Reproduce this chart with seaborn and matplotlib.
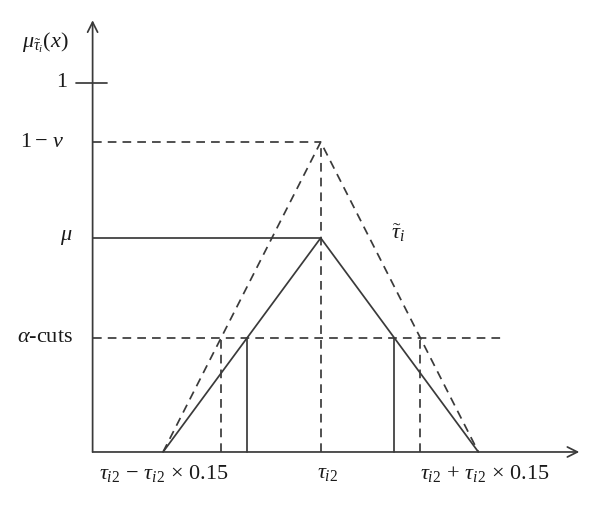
import numpy as np
import pandas as pd
import matplotlib
matplotlib.use("Agg")
import matplotlib.pyplot as plt
import seaborn as sns

# ---- data ----
base_x = [0.85, 1.0, 1.15]          # tau_i2 - 0.15 tau, tau_i2, tau_i2 + 0.15 tau
mu_level = 0.58                      # membership peak (solid)
nonmem_level = 0.84                  # 1 - nu (dashed)
alpha_level = 0.31                   # alpha-cut level
x_tick_labels = [r'$\tau_{i2}\,-\,\tau_{i2}\,\times\,0.15$', r'$\tau_{i2}$',
                 r'$\tau_{i2}\,+\,\tau_{i2}\,\times\,0.15$']
y_tick_values = [1.0, nonmem_level, mu_level, alpha_level]
y_tick_labels = ['1', r'$1-\,\nu$', r'$\mu$', r'$\alpha$-cuts']

sns.set_theme(style="white")
plt.rcParams['font.family'] = ['Liberation Serif', 'DejaVu Serif']
plt.rcParams['mathtext.fontset'] = 'custom'
plt.rcParams['mathtext.rm'] = 'Liberation Serif'
plt.rcParams['mathtext.it'] = 'Liberation Serif:italic'
plt.rcParams['mathtext.bf'] = 'Liberation Serif:bold'

col = '#3a3a3a'
lw = 1.25
dash = (5, 3.5)

fig = plt.figure(figsize=(6.0, 5.08), dpi=100)
ax = fig.add_axes([0, 0, 1, 1])
# pixel-consistent data window
ax.set_xlim(0.6949, 1.2657)
ax.set_ylim(-0.1518, 1.2249)
ax.axis('off')

tri = pd.DataFrame({
    'x': base_x * 2,
    'y': [0, mu_level, 0, 0, nonmem_level, 0],
    'kind': ['solid'] * 3 + ['dashed'] * 3,
})
sns.lineplot(data=tri[tri.kind == 'solid'], x='x', y='y', sort=False,
             color=col, lw=lw, ax=ax, estimator=None)
sns.lineplot(data=tri[tri.kind == 'dashed'], x='x', y='y', sort=False,
             color=col, lw=lw, ax=ax, estimator=None, dashes=False,
             linestyle=(0, dash))

x_axis = 0.783
x_end = 1.246
y_end = 1.17

# axes with arrows
ax.annotate('', xy=(x_end, 0), xytext=(x_axis, 0),
            arrowprops=dict(arrowstyle='->,head_length=0.6,head_width=0.3',
                            color=col, lw=lw, shrinkA=0, shrinkB=0))
ax.annotate('', xy=(x_axis, y_end), xytext=(x_axis, 0),
            arrowprops=dict(arrowstyle='->,head_length=0.6,head_width=0.3',
                            color=col, lw=lw, shrinkA=0, shrinkB=0))
# tick at 1
ax.plot([x_axis - 0.016, x_axis + 0.014], [1, 1], color=col, lw=lw)

peak = base_x[1]
# horizontal guides
ax.plot([x_axis, peak], [nonmem_level, nonmem_level], color=col, lw=lw, linestyle=(0, dash))
ax.plot([x_axis, peak], [mu_level, mu_level], color=col, lw=lw)
ax.plot([x_axis, 1.1725], [alpha_level, alpha_level], color=col, lw=lw, linestyle=(0, dash))
# vertical at peak
ax.plot([peak, peak], [0, nonmem_level], color=col, lw=lw, linestyle=(0, dash))

# alpha-cut verticals
def cut(h):
    f = alpha_level / h
    return base_x[0] + f * (peak - base_x[0]), base_x[2] - f * (base_x[2] - peak)

sl, sr = cut(mu_level)
dl, dr = cut(nonmem_level)
for xv in (sl, sr):
    ax.plot([xv, xv], [0, alpha_level], color=col, lw=lw)
for xv in (dl, dr):
    ax.plot([xv, xv], [0, alpha_level], color=col, lw=lw, linestyle=(0, dash))

fs = 16
tc = '#1a1a1a'
# y labels
label_right = [0.7587, 0.7567, 0.7634, 0.7643]
for xr, v, t in zip(label_right, y_tick_values, y_tick_labels):
    ax.text(xr, v, t, ha='right', va='center', fontsize=fs, color=tc)
ax.text(0.7377, 1.108, r'$\mu_{\tilde{\tau}_i}(x)$', ha='center', va='center',
        fontsize=fs, color=tc)
# x labels
for xv, t in zip([base_x[0] + 0.001, peak + 0.007, base_x[2] + 0.006], x_tick_labels):
    ax.text(xv, -0.057, t, ha='center', va='center', fontsize=fs, color=tc)
# tilde tau label
ax.text(1.0735, 0.593, r'$\tilde{\tau}_i$', ha='center', va='center', fontsize=fs,
        color=tc)

fig.savefig('out.png', dpi=100, facecolor='white')
